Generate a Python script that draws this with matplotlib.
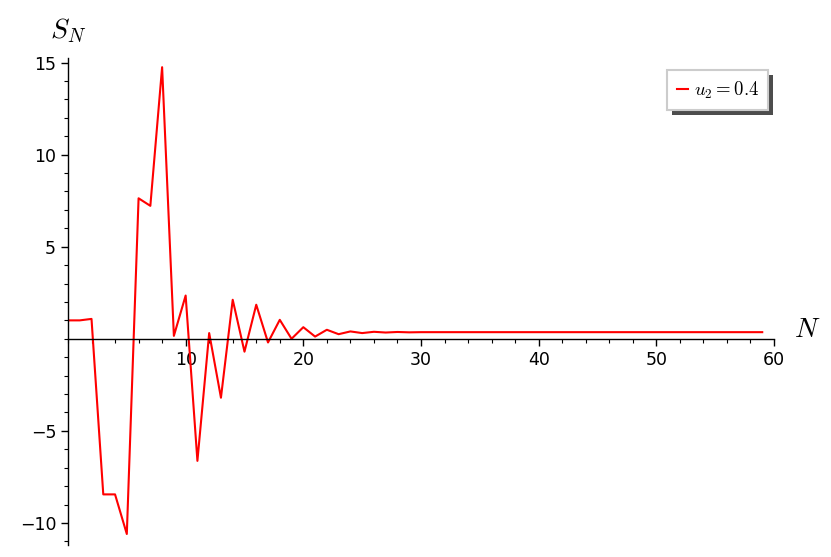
"""Partial sums S_N for u_2 = 0.4, Sage-style axes crossing at the origin."""
import matplotlib

matplotlib.use("Agg")
import matplotlib.pyplot as plt
from matplotlib.patches import Rectangle
from matplotlib.ticker import MultipleLocator
from matplotlib.transforms import IdentityTransform

plt.rcParams["mathtext.fontset"] = "cm"

# values
n_values = list(range(60))
s_head = [1.0, 1.0, 1.08, -8.45, -8.45, -10.6, 7.63, 7.22, 14.75, 0.16,
          2.35, -6.63, 0.31, -3.2, 2.12, -0.7, 1.85, -0.2, 1.03, 0.0,
          0.63, 0.12, 0.49, 0.25, 0.4, 0.31, 0.38, 0.34, 0.37, 0.35]
s_tail = [0.36] * 30
s_values = s_head + s_tail
legend_label = r"$u_2 = 0.4$"

fig = plt.figure(figsize=(8.31, 5.57), dpi=100)
ax = fig.add_axes([0.0818, 0.0215, 0.8496, 0.8744])

ax.plot(n_values, s_values, color="red", lw=1.5, label=legend_label)

ax.set_xlim(0, 60)
ax.set_ylim(-11.2, 15.25)

for side in ("top", "right"):
    ax.spines[side].set_visible(False)
ax.spines["left"].set_position(("data", 0))
ax.spines["bottom"].set_position(("data", 0))
for side in ("left", "bottom"):
    ax.spines[side].set_linewidth(1.0)

ax.xaxis.set_major_locator(MultipleLocator(10))
ax.xaxis.set_minor_locator(MultipleLocator(2))
ax.yaxis.set_major_locator(MultipleLocator(5))
ax.yaxis.set_minor_locator(MultipleLocator(1))
ax.set_xticks([10, 20, 30, 40, 50, 60])
ax.set_yticks([-10, -5, 5, 10, 15])
ax.tick_params(which="major", length=5, width=1, labelsize=12.5)
ax.tick_params(which="minor", length=3, width=0.8)

fig.text(0.06, 0.945, r"$S_N$", fontsize=20, ha="left", va="center")
fig.text(0.955, 0.41, r"$N$", fontsize=20, ha="left", va="center")

leg = ax.legend(loc="upper right", bbox_to_anchor=(0.9915, 0.975), borderaxespad=0,
                fancybox=False, shadow=False, fontsize=13.5, handlelength=0.6,
                handletextpad=0.3, borderpad=0.5, framealpha=1)
leg.get_frame().set_edgecolor("#cccccc")
leg.get_frame().set_linewidth(1.5)
leg.set_zorder(6)

# darker, wider drop shadow than matplotlib's default, drawn under the legend
fig.canvas.draw()
bb = leg.get_window_extent()
shadow = Rectangle((bb.x0 + 5, bb.y0 - 5), bb.width, bb.height,
                   transform=IdentityTransform(), facecolor="#4d4d4d",
                   edgecolor="none", zorder=5, clip_on=False)
ax.add_artist(shadow)

fig.savefig("out.png", dpi=100)
